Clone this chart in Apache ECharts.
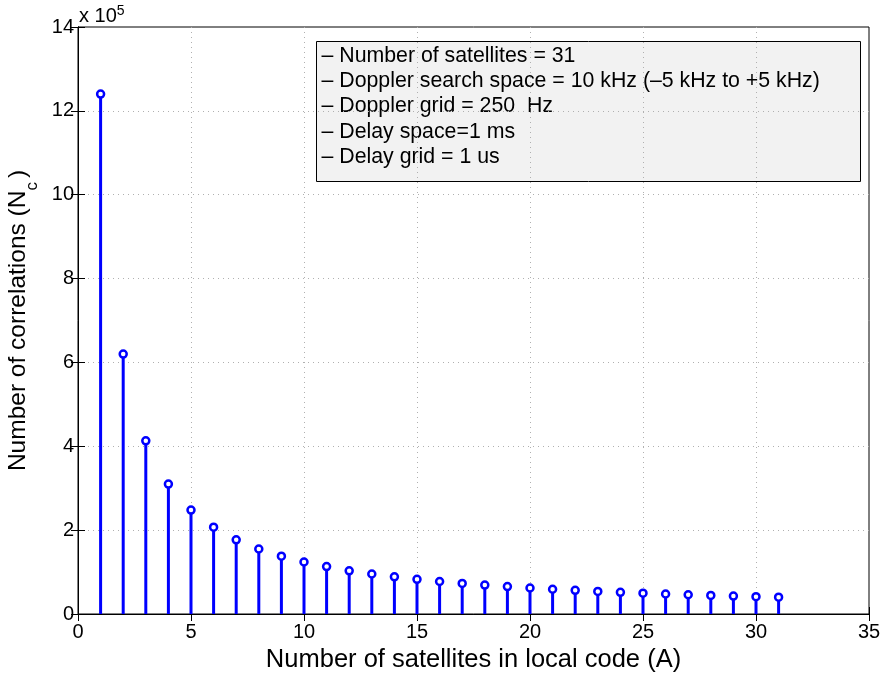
<!DOCTYPE html>
<html>
<head>
<meta charset="utf-8">
<script src="https://cdn.jsdelivr.net/npm/echarts@6/dist/echarts.min.js"></script>
<style>
  html, body { margin: 0; padding: 0; background: #fff; }
  #chart { width: 882px; height: 675px; }
</style>
</head>
<body>
<div id="chart"></div>
<script>
// Number of satellites combined in the local code (A)
const satellitesInCode = [1, 2, 3, 4, 5, 6, 7, 8, 9, 10, 11, 12, 13, 14, 15, 16,
  17, 18, 19, 20, 21, 22, 23, 24, 25, 26, 27, 28, 29, 30, 31];
// Number of correlations N_c for each A
const correlations = [1240000, 620000, 413000, 310000, 248000, 207000, 177000,
  155000, 138000, 124000, 113000, 103000, 95400, 88600, 82700, 77500, 72900,
  68900, 65300, 62000, 59000, 56400, 53900, 51700, 49600, 47700, 45900, 44300,
  42800, 41300, 40000];
// Search-space parameters listed in the note box
const noteLines = [
  '\u2013 Number of satellites = 31',
  '\u2013 Doppler search space = 10 kHz (\u20135 kHz to +5 kHz)',
  '\u2013 Doppler grid = 250  Hz',
  '\u2013 Delay space=1 ms',
  '\u2013 Delay grid = 1 us'
];
const yScale = 1e5;

const FONT = 'Liberation Sans, Arial, Helvetica, sans-serif';
const chart = echarts.init(document.getElementById('chart'), null, { renderer: 'canvas' });

const stemData = satellitesInCode.map((a, i) => [a, correlations[i]]);

const G = { left: 78, right: 13, top: 27, bottom: 61 };

const tickStyle = { inside: true, length: 7, lineStyle: { color: '#000', width: 1 } };
const splitStyle = { show: true, showMinLine: false, showMaxLine: false,
  lineStyle: { color: '#b0b0b0', type: [1, 4], width: 1 } };

chart.setOption({
  animation: false,
  grid: { left: G.left, right: G.right, top: G.top, bottom: G.bottom,
          containLabel: false, outerBoundsMode: 'none',
          show: true, borderColor: '#000', borderWidth: 1, backgroundColor: 'transparent' },
  xAxis: [{
    type: 'value', min: 0, max: 35, interval: 5, position: 'bottom',
    axisLine: { show: true, lineStyle: { color: '#000', width: 1 } },
    axisTick: tickStyle,
    splitLine: splitStyle,
    axisLabel: { color: '#000', fontSize: 20, fontFamily: FONT, margin: 8 },
    name: 'Number of satellites in local code (A)',
    nameLocation: 'middle', nameGap: 24,
    nameTextStyle: { color: '#000', fontSize: 25.5, fontFamily: FONT }
  }, {
    type: 'value', min: 0, max: 35, interval: 5, position: 'top',
    axisLine: { show: true, lineStyle: { color: '#000' } },
    axisTick: tickStyle, axisLabel: { show: false }, splitLine: { show: false }
  }],
  yAxis: [{
    type: 'value', min: 0, max: 14 * yScale, interval: 2 * yScale, position: 'left',
    axisLine: { show: true, lineStyle: { color: '#000', width: 1 } },
    axisTick: tickStyle,
    splitLine: splitStyle,
    axisLabel: { color: '#000', fontSize: 20, fontFamily: FONT, margin: 4,
                 formatter: v => String(Math.round(v / yScale)) },
    name: 'Number of correlations (N{sub|c})',
    nameLocation: 'middle', nameGap: 41, nameRotate: 90,
    nameTextStyle: { color: '#000', fontSize: 24.5, fontFamily: FONT,
      rich: { sub: { fontSize: 17, fontFamily: FONT, color: '#000', verticalAlign: 'bottom', padding: [0, 4, -10, 0] } } }
  }, {
    type: 'value', min: 0, max: 14 * yScale, interval: 2 * yScale, position: 'right',
    axisLine: { show: true, lineStyle: { color: '#000' } },
    axisTick: tickStyle, axisLabel: { show: false }, splitLine: { show: false }
  }],
  series: [{
    type: 'custom',
    data: stemData,
    clip: false,
    renderItem: function (params, api) {
      const base = api.coord([api.value(0), 0]);
      const top = api.coord([api.value(0), api.value(1)]);
      return {
        type: 'group',
        children: [{
          type: 'line',
          shape: { x1: base[0], y1: base[1], x2: top[0], y2: top[1] },
          style: { stroke: '#0000ff', lineWidth: 3 }
        }, {
          type: 'circle',
          shape: { cx: top[0], cy: top[1], r: 3.5 },
          style: { fill: '#ffffff', stroke: '#0000ff', lineWidth: 2.5 }
        }]
      };
    }
  }],
  graphic: [{
    type: 'text', left: 79, top: 4,
    style: { text: 'x 10{sup|5}', fontSize: 20, fontFamily: FONT, fill: '#000',
      rich: { sup: { fontSize: 14, fontFamily: FONT, fill: '#000', verticalAlign: 'top', padding: [0, 0, 10, 0] } } }
  }, {
    type: 'group', left: 316, top: 41,
    children: [{
      type: 'rect', shape: { x: 0, y: 0, width: 544, height: 140 },
      style: { fill: '#f2f2f2', stroke: '#000', lineWidth: 1 }
    }].concat(noteLines.map((t, i) => ({
      type: 'text', x: 5, y: 4 + i * 25.3,
      style: { text: t, fontSize: 21.3, fontFamily: FONT, fill: '#000' }
    })))
  }]
});
</script>
</body>
</html>
